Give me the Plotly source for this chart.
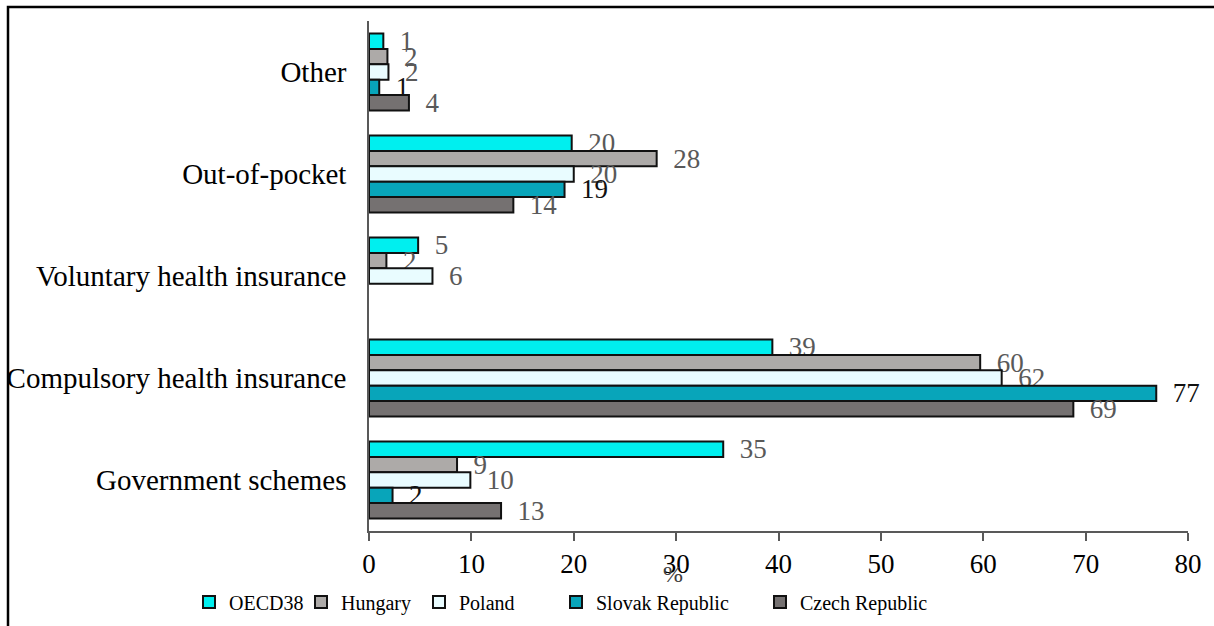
import plotly.graph_objects as go

# Health financing schemes, share of current health expenditure (%)
categories = [
    "Other",
    "Out-of-pocket",
    "Voluntary health insurance",
    "Compulsory health insurance",
    "Government schemes",
]

series_names = ["OECD38", "Hungary", "Poland", "Slovak Republic", "Czech Republic"]

oecd38 = [1.4, 19.8, 4.8, 39.4, 34.6]
hungary = [1.8, 28.1, 1.7, 59.7, 8.6]
poland = [1.9, 20.0, 6.2, 61.8, 9.9]
slovak_republic = [1.0, 19.1, None, 76.9, 2.3]
czech_republic = [3.9, 14.1, None, 68.8, 12.9]

series_values = [oecd38, hungary, poland, slovak_republic, czech_republic]

x_ticks = [0, 10, 20, 30, 40, 50, 60, 70, 80]

fill_colors = ["#00EFEF", "#ADAAA8", "#E9FCFF", "#08A5BA", "#757171"]
label_colors = ["#595959", "#595959", "#595959", "#111111", "#595959"]

# left edge (px) of each legend entry along the bottom row
legend_left_px = [189, 301, 419, 556, 760]

FONT = "Liberation Serif, Times New Roman, serif"

W, H = 1214, 626
L, R, T, B = 369, 26, 21, 95
pw, ph = W - L - R, H - T - B

fig = go.Figure()
for i, (name, vals, fill, lab) in enumerate(zip(series_names, series_values, fill_colors, label_colors)):
    fig.add_trace(go.Bar(
        name=name,
        y=categories,
        x=vals,
        orientation="h",
        marker=dict(color=fill, line=dict(color="#111111", width=2)),
        texttemplate="\u00a0\u00a0%{x:.0f}",
        textposition="outside",
        constraintext="none",
        cliponaxis=False,
        textfont=dict(family=FONT, size=27, color=lab),
        legend="legend" if i == 0 else f"legend{i + 1}",
    ))

legend_style = dict(
    orientation="h",
    xref="container",
    yref="container",
    xanchor="left",
    y=1 - 602 / H,
    yanchor="middle",
    font=dict(family=FONT, size=20, color="#000000"),
    itemwidth=30,
    bgcolor="rgba(0,0,0,0)",
)
legends = {}
for i, px in enumerate(legend_left_px):
    key = "legend" if i == 0 else f"legend{i + 1}"
    legends[key] = dict(legend_style, x=px / W)

fig.update_layout(
    width=W,
    height=H,
    margin=dict(l=L, r=R, t=T, b=B),
    paper_bgcolor="white",
    plot_bgcolor="white",
    barmode="group",
    bargap=0.245,
    bargroupgap=0,
    font=dict(family=FONT, size=27, color="#000000"),
    showlegend=True,
    xaxis=dict(
        range=[0, 80],
        tickvals=x_ticks,
        ticktext=[str(t) for t in x_ticks],
        ticks="outside",
        ticklen=8,
        tickcolor="#595959",
        tickwidth=1.5,
        showline=True,
        linecolor="#595959",
        linewidth=1.5,
        showgrid=False,
        zeroline=False,
        automargin=False,
        tickfont=dict(family=FONT, size=27, color="#000000"),
    ),
    yaxis=dict(
        autorange="reversed",
        showline=True,
        linecolor="#595959",
        linewidth=1.5,
        showgrid=False,
        ticks="",
        ticklabelstandoff=15,
        automargin=False,
        tickfont=dict(family=FONT, size=29, color="#000000"),
    ),
    **legends,
)

# axis unit label
fig.add_annotation(
    text="%",
    xref="paper", yref="paper",
    x=(673 - L) / pw, y=-(574 - (T + ph)) / ph,
    xanchor="center", yanchor="middle",
    showarrow=False,
    font=dict(family=FONT, size=24, color="#404040"),
)

# chart frame
fig.add_shape(
    type="rect",
    xref="paper", yref="paper",
    x0=(8 - L) / pw, x1=(W + 20 - L) / pw,
    y0=-(H + 20 - (T + ph)) / ph, y1=1 + (T - 7) / ph,
    line=dict(color="#000000", width=2.5),
    fillcolor="rgba(0,0,0,0)",
    layer="below",
)

fig.write_html("out.html")
